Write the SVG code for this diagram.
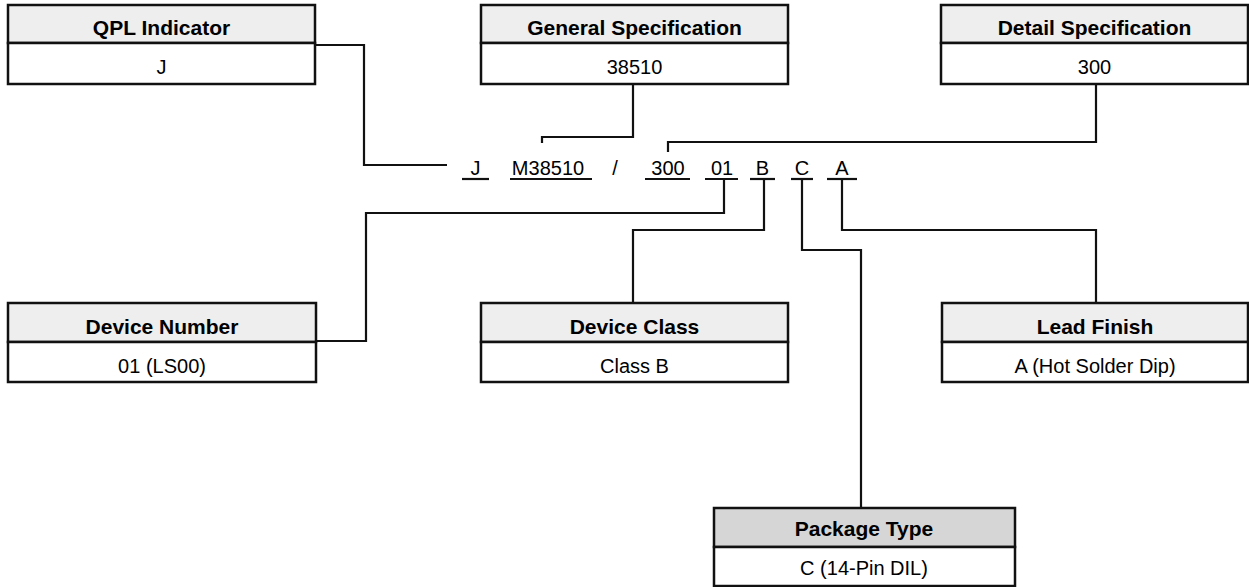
<svg xmlns="http://www.w3.org/2000/svg" width="1249" height="587" viewBox="0 0 1249 587">
<style>
.hdr{fill:#eeeeee;stroke:#111;stroke-width:2.5}
.hdr2{fill:#d6d6d6;stroke:#111;stroke-width:2.5}
.val{fill:#ffffff;stroke:#111;stroke-width:2.5}
.ht{font-family:"Liberation Sans",Arial,sans-serif;font-weight:bold;font-size:21px;fill:#000;text-anchor:middle}
.vt{font-family:"Liberation Sans",Arial,sans-serif;font-size:20px;fill:#000;text-anchor:middle}
.code{font-family:"Liberation Sans",Arial,sans-serif;font-size:20px;fill:#000;text-anchor:middle}
.ln{fill:none;stroke:#111;stroke-width:2.2}
</style>
<rect width="1249" height="587" fill="#ffffff"/>
<g id="qpl">
<rect class="hdr" x="8" y="5" width="307" height="38"/>
<rect class="val" x="8" y="43" width="307" height="41"/>
<text class="ht" x="161.5" y="35">QPL Indicator</text>
<text class="vt" x="161.5" y="74">J</text>
</g>
<g id="general">
<rect class="hdr" x="481" y="5" width="307" height="38"/>
<rect class="val" x="481" y="43" width="307" height="41"/>
<text class="ht" x="634.5" y="35">General Specification</text>
<text class="vt" x="634.5" y="74">38510</text>
</g>
<g id="detail">
<rect class="hdr" x="941" y="5" width="307" height="38"/>
<rect class="val" x="941" y="43" width="307" height="41"/>
<text class="ht" x="1094.5" y="35">Detail Specification</text>
<text class="vt" x="1094.5" y="74">300</text>
</g>
<g id="devnum">
<rect class="hdr" x="8" y="303" width="308" height="39"/>
<rect class="val" x="8" y="342" width="308" height="40"/>
<text class="ht" x="162" y="334">Device Number</text>
<text class="vt" x="162" y="373">01 (LS00)</text>
</g>
<g id="devclass">
<rect class="hdr" x="481" y="303" width="307" height="39"/>
<rect class="val" x="481" y="342" width="307" height="40"/>
<text class="ht" x="634.5" y="334">Device Class</text>
<text class="vt" x="634.5" y="373">Class B</text>
</g>
<g id="lead">
<rect class="hdr" x="942" y="303" width="306" height="39"/>
<rect class="val" x="942" y="342" width="306" height="40"/>
<text class="ht" x="1095" y="334">Lead Finish</text>
<text class="vt" x="1095" y="373">A (Hot Solder Dip)</text>
</g>
<g id="package">
<rect class="hdr2" x="714" y="508" width="301" height="39"/>
<rect class="val" x="714" y="547" width="301" height="39"/>
<text class="ht" x="864" y="536">Package Type</text>
<text class="vt" x="864" y="575">C (14-Pin DIL)</text>
</g>
<g id="code">
<text class="code" x="475.5" y="175">J</text>
<text class="code" x="548" y="175">M38510</text>
<text class="code" x="615" y="175">/</text>
<text class="code" x="668" y="175">300</text>
<text class="code" x="722" y="175">01</text>
<text class="code" x="762.5" y="175">B</text>
<text class="code" x="802" y="175">C</text>
<text class="code" x="842" y="175">A</text>
<g class="ln">
<line x1="462" y1="179" x2="489" y2="179"/>
<line x1="510" y1="179" x2="592" y2="179"/>
<line x1="645" y1="179" x2="690" y2="179"/>
<line x1="705" y1="179" x2="738" y2="179"/>
<line x1="750" y1="179" x2="775" y2="179"/>
<line x1="791" y1="179" x2="813" y2="179"/>
<line x1="827" y1="179" x2="857" y2="179"/>
</g>
</g>
<g id="connectors" class="ln">
<path class="ln" d="M315 45 H364 V165 H447"/>
<path class="ln" d="M633 84 V137 H542 V143"/>
<path class="ln" d="M1096 84 V142 H668 V152"/>
<path class="ln" d="M316 341 H366 V213 H724 V179"/>
<path class="ln" d="M633 303 V230 H764 V179"/>
<path class="ln" d="M1096 303 V230 H842 V179"/>
<path class="ln" d="M861 508 V250 H802 V179"/>
</g>
</svg>
